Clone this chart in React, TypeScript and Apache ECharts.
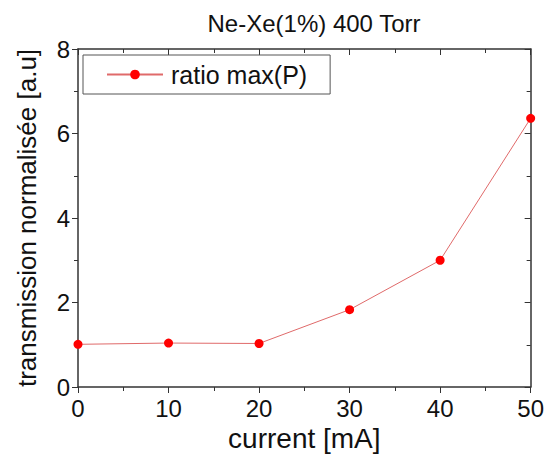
import React, { useEffect, useRef } from "react";
import * as echarts from "echarts";

const currents = [0, 10, 20, 30, 40, 50];
const ratioMaxP = [1.01, 1.04, 1.03, 1.83, 3.0, 6.36];
const seriesName = "ratio max(P)";
const titleText = "Ne-Xe(1%) 400 Torr";
const xName = "current [mA]";
const yName = "transmission normalisée [a.u]";

const FONT = "'Liberation Sans', Arial, sans-serif";
const AXIS_COLOR = "#333";

export default function App() {
  const ref = useRef<HTMLDivElement>(null);
  useEffect(() => {
    if (!ref.current) return;
    const chart = echarts.init(ref.current, undefined, { renderer: "svg" });
    const baseX = {
      type: "value",
      min: 0,
      max: 50,
      interval: 10,
      axisLine: { show: true, onZero: false, lineStyle: { color: AXIS_COLOR, width: 1.5 } },
      splitLine: { show: false },
      minorTick: { show: true, splitNumber: 2, length: 4, lineStyle: { color: AXIS_COLOR } },
    };
    const baseY = {
      type: "value",
      min: 0,
      max: 8,
      interval: 2,
      axisLine: { show: true, onZero: false, lineStyle: { color: AXIS_COLOR, width: 1.5 } },
      splitLine: { show: false },
      minorTick: { show: true, splitNumber: 2, length: 4, lineStyle: { color: AXIS_COLOR } },
    };
    chart.setOption({
      animation: false,
      backgroundColor: "#fff",
      title: {
        text: titleText,
        left: 309,
        textAlign: "center",
        top: 6,
        textStyle: { fontFamily: FONT, fontSize: 24, fontWeight: "normal", color: "#111" },
      },
      grid: { left: 78, right: 14, top: 49, bottom: 71 },
      legend: {
        left: 83,
        top: 55,
        width: 248,
        padding: [7, 23, 7, 23],
        borderColor: "#555",
        borderWidth: 1,
        itemWidth: 56,
        itemHeight: 12,
        textStyle: { fontFamily: FONT, fontSize: 25, color: "#111", padding: [0, 0, 0, 3] },
        data: [seriesName],
      },
      xAxis: [
        {
          ...baseX,
          position: "bottom",
          name: xName,
          nameLocation: "middle",
          nameGap: 36,
          nameTextStyle: { fontFamily: FONT, fontSize: 28, color: "#111" },
          axisTick: { show: true, inside: false, length: 6, lineStyle: { color: AXIS_COLOR } },
          axisLabel: { show: true, fontFamily: FONT, fontSize: 24, color: "#111", margin: 9 },
        },
        {
          ...baseX,
          position: "top",
          axisTick: { show: true, inside: true, length: 6, lineStyle: { color: AXIS_COLOR } },
          minorTick: { show: true, splitNumber: 2, length: 4, lineStyle: { color: AXIS_COLOR } },
          axisLabel: { show: false },
        },
      ],
      yAxis: [
        {
          ...baseY,
          position: "left",
          name: yName,
          nameLocation: "middle",
          nameGap: 38,
          nameTextStyle: { fontFamily: FONT, fontSize: 26, color: "#111" },
          axisTick: { show: true, inside: false, length: 6, lineStyle: { color: AXIS_COLOR } },
          axisLabel: { show: true, fontFamily: FONT, fontSize: 24, color: "#111", margin: 8 },
        },
        {
          ...baseY,
          position: "right",
          axisTick: { show: true, inside: true, length: 6, lineStyle: { color: AXIS_COLOR } },
          axisLabel: { show: false },
        },
      ],
      series: [
        {
          name: seriesName,
          type: "line",
          xAxisIndex: 0,
          yAxisIndex: 0,
          data: currents.map((c, i) => [c, ratioMaxP[i]]),
          symbol: "circle",
          symbolSize: 9,
          clip: false,
          itemStyle: { color: "#ff0000" },
          lineStyle: { color: "#e06a6a", width: 1 },
        },
      ],
    });
    return () => chart.dispose();
  }, []);
  return <div ref={ref} style={{ width: 547, height: 458, position: "absolute", left: 0, top: 0 }} />;
}
